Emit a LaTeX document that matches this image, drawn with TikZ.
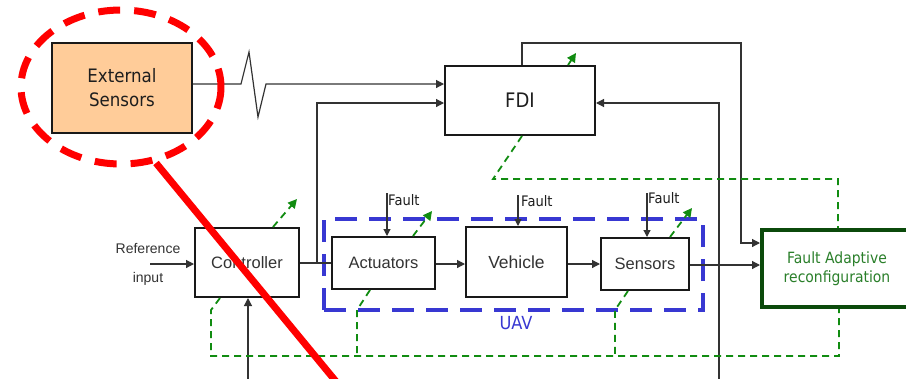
\documentclass[tikz,border=0pt]{standalone}
\usepackage{fontspec}
\setmainfont{DejaVu Sans}[FakeStretch=0.9]
\newfontfamily\arialf{Liberation Sans}
\usetikzlibrary{arrows.meta}
\definecolor{peach}{HTML}{FFCC99}
\definecolor{gdash}{HTML}{118C11}
\definecolor{farg}{HTML}{0B4A0B}
\definecolor{fartxt}{HTML}{2A7F2A}
\definecolor{uavblue}{HTML}{3838D2}
\definecolor{txt}{HTML}{1E1E1E}
\definecolor{txtg}{HTML}{333333}
\definecolor{ln}{HTML}{333333}
\begin{document}
\begin{tikzpicture}[x=1pt,y=-1pt,
 box/.style={draw=black!90, line width=2pt, fill=white, inner sep=0pt, text=txt},
 conn/.style={draw=ln, line width=1.2pt},
 arr/.style={conn, -{Triangle[length=8pt,width=8pt]}},
 farr/.style={conn, -{Triangle[length=7pt,width=7pt]}},
 gd/.style={draw=gdash, line width=1.8pt, dash pattern=on 7pt off 5pt},
 garr/.style={gd, -{Triangle[length=9pt,width=9pt]}},
 lbl/.style={inner sep=0pt, text=txt},
 arialbig/.style={font=\arialf\fontsize{16.5}{20}\selectfont, text=txtg},
 faultlbl/.style={lbl, anchor=west, font=\fontsize{14.5}{16}\selectfont},
]
\useasboundingbox (0,0) rectangle (906,378);
\fill[white] (0,0) rectangle (906,378);

% UAV dashed frame
\node[draw=uavblue, line width=3.5pt, dash pattern=on 22pt off 12pt,
      minimum width=379pt, minimum height=91pt, inner sep=0pt] (uavbox) at (513.5,264.5) {};
\node[lbl, text=uavblue, font=\fontsize{18}{20}\selectfont] (uav) at (516,323) {UAV};

% blocks
\node[box, fill=peach, minimum width=140pt, minimum height=90pt, align=center,
      font=\fontsize{18.5}{24}\selectfont] (ext) at (122,88) {External\\Sensors};
\node[box, minimum width=150pt, minimum height=69pt, font=\fontsize{20}{22}\selectfont] (fdi) at (520,100.5) {FDI};
\node[box, minimum width=104pt, minimum height=69pt, arialbig] (ctrl) at (247,262.5) {Controller};
\node[box, minimum width=103pt, minimum height=52pt, arialbig] (act) at (383.5,263) {Actuators};
\node[box, minimum width=101pt, minimum height=70pt, font=\arialf\fontsize{17.5}{20}\selectfont, text=txtg] (veh) at (516.5,262) {Vehicle};
\node[box, minimum width=88pt, minimum height=52pt, arialbig] (sen) at (645,264) {Sensors};
\node[box, draw=farg, line width=4pt, minimum width=150pt, minimum height=77pt, align=center,
      text=fartxt, font=\fontsize{15.5}{19}\selectfont] (far) at (837,268.5) {Fault Adaptive\\reconfiguration};

% labels
\node[lbl, font=\arialf\fontsize{14}{16}\selectfont, text=txtg] (ref) at (148,248) {Reference};
\node[lbl, font=\arialf\fontsize{14}{16}\selectfont, text=txtg] (inp) at (148,279) {input};
\node[faultlbl] (fa1) at (388,200) {Fault};
\node[faultlbl] (fa2) at (521,201) {Fault};
\node[faultlbl] (fa3) at (648,198) {Fault};

% coordinates for free ends
\coordinate (refin) at (150,264);
\coordinate (ctrlbot) at (248,395);
\coordinate (fdiback) at (719,395);
\coordinate (f1s) at (387,193);
\coordinate (f2s) at (518,195);
\coordinate (f3s) at (647,193);

% black connectors
\draw[arr] (ext.east |- 0,84) -- (241,84) -- (249,52) -- (258,117) -- (266,84) -- (fdi.west |- 0,84);
\draw[arr] (refin) -- (ctrl.west |- refin);
\draw[conn] (ctrl.east |- 0,263) -- (act.west |- 0,263);
\draw[arr] (317,263) -- (317,103) -- (fdi.west |- 0,103);
\draw[arr] (ctrlbot) -- (ctrl.south -| ctrlbot);
\draw[arr] (act.east |- 0,264) -- (veh.west |- 0,264);
\draw[arr] (veh.east |- 0,264) -- (sen.west |- 0,264);
\draw[arr] (sen.east |- 0,265) -- (far.west |- 0,265);
\draw[arr] (fdi.north -| 522,0) -- (522,43) -- (741,43) -- (741,243) -- (far.west |- 0,243);
\draw[arr] (fdiback) -- (719,103) -- (fdi.east |- 0,103);
\draw[farr] (f1s) -- (act.north -| f1s);
\draw[farr] (f2s) -- (veh.north -| f2s);
\draw[farr] (f3s) -- (sen.north -| f3s);

% green dashed reconfiguration links
\draw[garr] (ctrl.north -| 273,0) -- (297,199);
\draw[garr] (act.north -| 413,0) -- (432,211);
\draw[garr] (sen.north -| 670,0) -- (692,208);
\draw[garr] (fdi.north -| 568,0) -- (576,53);
\draw[gd] (ctrl.south -| 220,0) -- (211,310) -- (211,356) -- (839,356) -- (far.south -| 839,0);
\draw[gd] (act.south -| 370,0) -- (357,310) -- (357,356);
\draw[gd] (sen.south -| 628,0) -- (615,310) -- (615,356);
\draw[gd] (fdi.south -| 522,0) -- (493,179) -- (838,179) -- (far.north -| 838,0);

% red highlight
\draw[red, line width=7pt, dash pattern=on 22pt off 14pt] (121,87) ellipse [x radius=100, y radius=77];
\draw[red, line width=7pt] (156,163) -- (343,390);
\end{tikzpicture}
\end{document}
